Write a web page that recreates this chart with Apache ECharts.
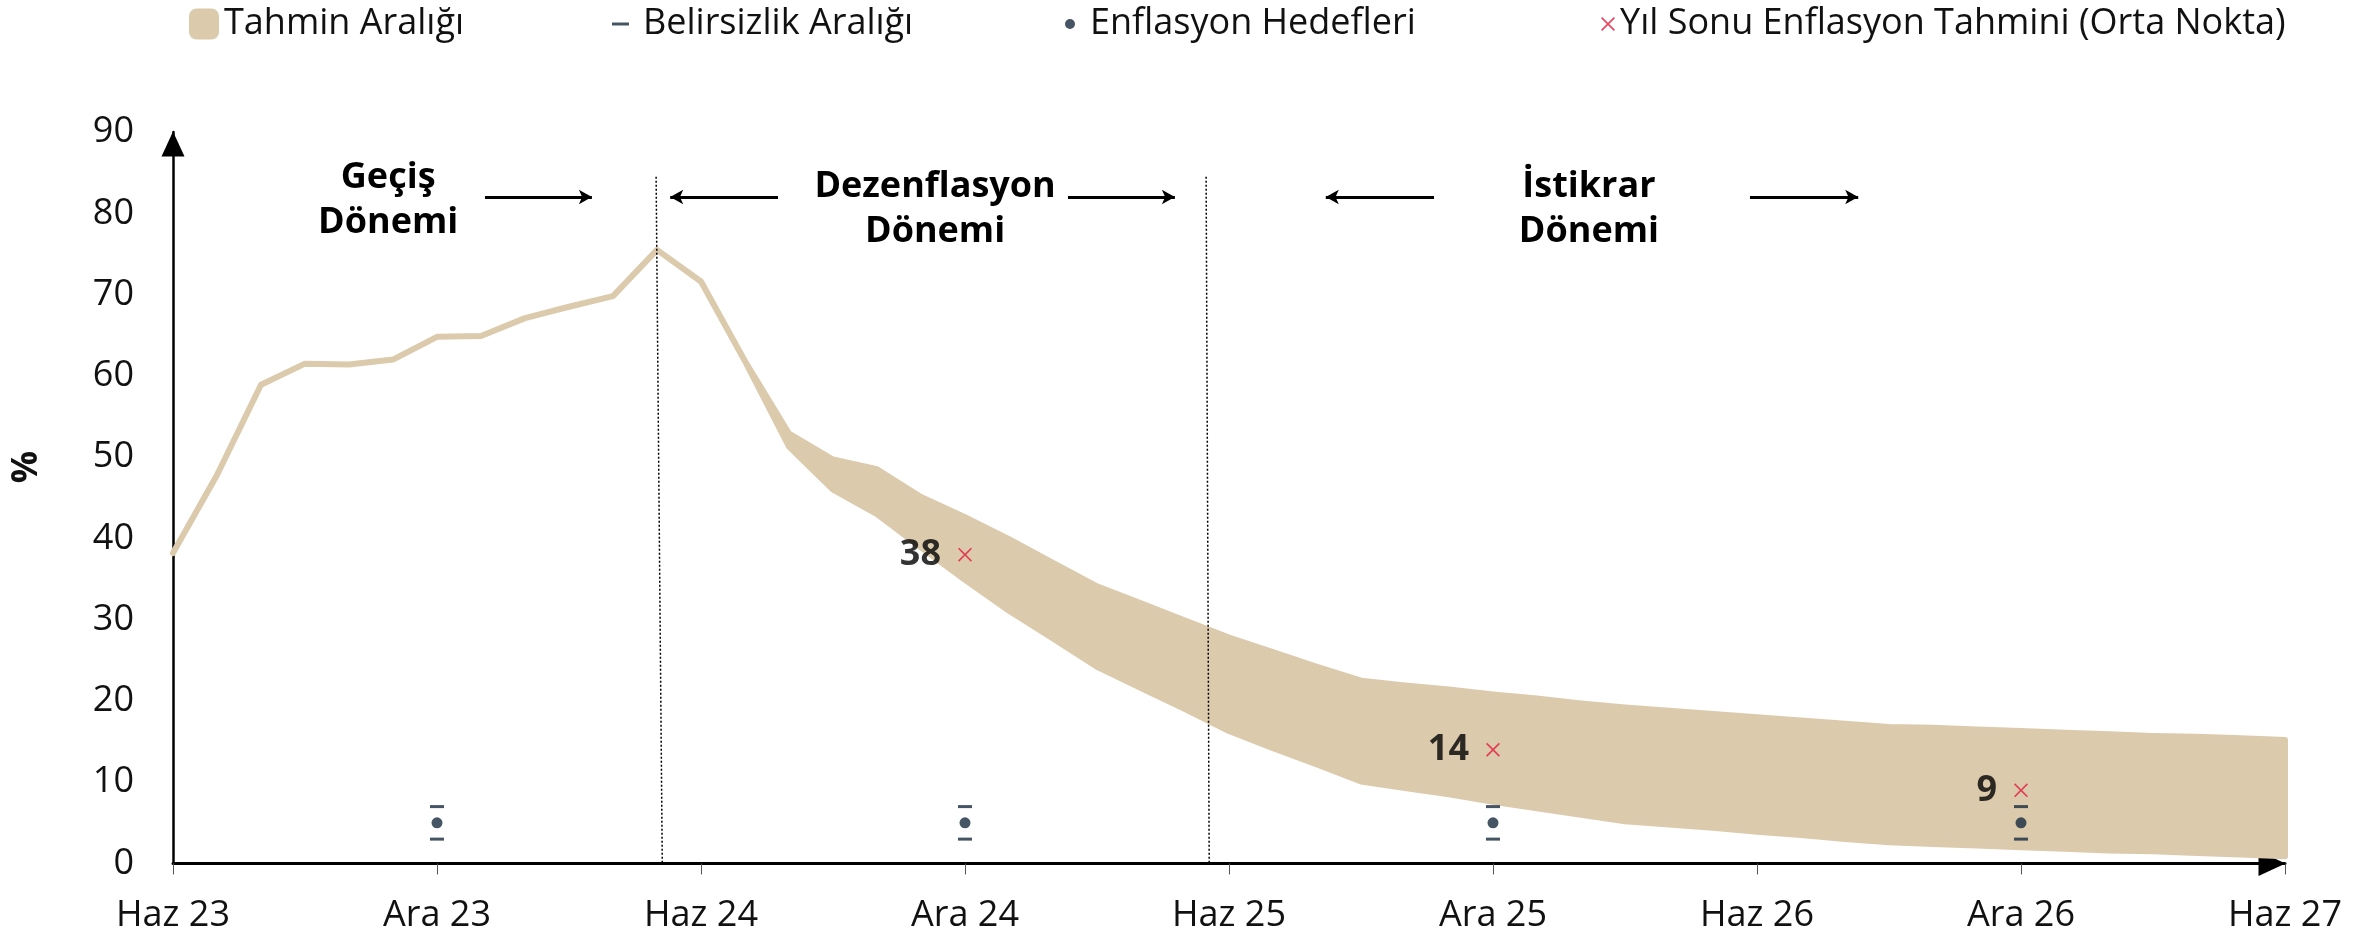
<!DOCTYPE html>
<html>
<head>
<meta charset="utf-8">
<script src="https://cdn.jsdelivr.net/npm/echarts@6/dist/echarts.min.js"></script>
<style>
  html, body { margin: 0; padding: 0; background: #ffffff; }
  #chart { width: 2379px; height: 938px; }
</style>
</head>
<body>
<div id="chart"></div>
<script>
// Monthly axis, June 2023 – June 2027
const months = ['Haz 23','Tem 23','Ağu 23','Eyl 23','Eki 23','Kas 23','Ara 23',
  'Oca 24','Şub 24','Mar 24','Nis 24','May 24','Haz 24','Tem 24','Ağu 24','Eyl 24','Eki 24','Kas 24','Ara 24',
  'Oca 25','Şub 25','Mar 25','Nis 25','May 25','Haz 25','Tem 25','Ağu 25','Eyl 25','Eki 25','Kas 25','Ara 25',
  'Oca 26','Şub 26','Mar 26','Nis 26','May 26','Haz 26','Tem 26','Ağu 26','Eyl 26','Eki 26','Kas 26','Ara 26',
  'Oca 27','Şub 27','Mar 27','Nis 27','May 27','Haz 27'];

// Realized annual inflation (%), Haz 23 – Tem 24
const realized = [38.2, 47.8, 58.9, 61.5, 61.4, 62.0, 64.8, 64.9, 67.1, 68.5, 69.8, 75.5, 71.6, 61.8];

// Forecast range (%), Ağu 24 – Haz 27
const forecastHigh = [52.9, 49.7, 48.5, 45.1, 42.6, 39.9, 37.0, 34.1, 32.0, 29.9, 27.8, 26.0, 24.2, 22.5,
  21.9, 21.4, 20.8, 20.3, 19.7, 19.2, 18.8, 18.4, 18.0, 17.6, 17.2, 16.8,
  16.7, 16.5, 16.3, 16.1, 15.9, 15.7, 15.6, 15.4, 15.2];
const forecastLow = [51.3, 46.0, 43.0, 38.9, 34.9, 31.1, 27.7, 24.2, 21.6, 19.0, 16.3, 14.2, 12.2, 10.1,
  9.3, 8.5, 7.6, 6.8, 6.0, 5.2, 4.8, 4.4, 3.9, 3.5, 3.0, 2.6,
  2.4, 2.2, 2.0, 1.8, 1.6, 1.5, 1.3, 1.1, 0.9];

// Inflation targets and their uncertainty band
const targetMonths = ['Ara 23', 'Ara 24', 'Ara 25', 'Ara 26'];
const targetValues = [5, 5, 5, 5];
const uncertaintyHigh = [7, 7, 7, 7];
const uncertaintyLow = [3, 3, 3, 3];

// Year-end forecast midpoints
const midMonths = ['Ara 24', 'Ara 25', 'Ara 26'];
const midValues = [38, 14, 9];

// Y axis ticks
const yTicks = [0, 10, 20, 30, 40, 50, 60, 70, 80, 90];

const FONT = "'Open Sans', 'Noto Sans', sans-serif";
const BAND = '#dccaad';
const NAVY = '#172a3e';
const RED = '#e21b3c';
const INK = '#111111';
const CROSS = 'path://M1.2,0L7,5.8L12.8,0L14,1.2L8.2,7L14,12.8L12.8,14L7,8.2L1.2,14L0,12.8L5.8,7L0,1.2Z';

const idx = m => months.indexOf(m);
// rows: [month index, low, high]; realized months have low == high
const bandRows = realized.map((v, i) => [i, v, v])
  .concat(forecastLow.map((v, i) => [realized.length + i, v, forecastHigh[i]]));
const dashData = [];
targetMonths.forEach((m, i) => {
  dashData.push([idx(m), uncertaintyHigh[i]]);
  dashData.push([idx(m), uncertaintyLow[i]]);
});
const targetData = targetMonths.map((m, i) => [idx(m), targetValues[i]]);
const midData = midMonths.map((m, i) => [idx(m), midValues[i]]);

const legendText = { fontFamily: FONT, fontSize: 36, color: INK };

// Band outline: upper edge left→right, lower edge back right→left
function renderBand(params, api) {
  if (params.dataIndex !== 0) return null;
  const upper = bandRows.map(r => api.coord([r[0], r[2]]));
  const lower = bandRows.map(r => api.coord([r[0], r[1]])).reverse();
  return {
    type: 'polygon',
    shape: { points: upper.concat(lower) },
    style: { fill: BAND, stroke: BAND, lineWidth: 6, lineJoin: 'round' },
    silent: true
  };
}

const chart = echarts.init(document.getElementById('chart'));
chart.setOption({
  animation: false,
  backgroundColor: '#ffffff',
  textStyle: { fontFamily: FONT },
  grid: { left: 173, right: 94, top: 132, bottom: 74.5, containLabel: false },
  legend: [
    { left: 189, top: 6, padding: 0, icon: 'roundRect', itemWidth: 30, itemHeight: 31,
      data: ['Tahmin Aralığı'], textStyle: legendText, selectedMode: false },
    { left: 612, top: 6, padding: 0, icon: 'rect', itemWidth: 17, itemHeight: 3,
      data: ['Belirsizlik Aralığı'], textStyle: Object.assign({ padding: [0, 0, 0, 9] }, legendText), selectedMode: false },
    { left: 1065, top: 6, padding: 0, icon: 'circle', itemWidth: 10, itemHeight: 10,
      data: ['Enflasyon Hedefleri'], textStyle: Object.assign({ padding: [0, 0, 0, 10] }, legendText), selectedMode: false },
    { left: 1601, top: 6, padding: 0, icon: CROSS, itemWidth: 14, itemHeight: 14,
      data: ['Yıl Sonu Enflasyon Tahmini (Orta Nokta)'], textStyle: legendText, selectedMode: false }
  ],
  xAxis: {
    type: 'value', min: 0, max: months.length - 1, interval: 6,
    axisLine: { show: true, onZero: false, lineStyle: { color: '#000', width: 3 },
      symbol: ['none', 'triangle'], symbolSize: [25, 27], symbolOffset: [0, -13] },
    axisTick: { show: true, length: 11, lineStyle: { color: '#555', width: 1 } },
    axisLabel: { margin: 34, fontSize: 36, color: INK, fontFamily: FONT,
      formatter: v => months[v] || '' },
    splitLine: { show: false }
  },
  yAxis: {
    type: 'value', min: yTicks[0], max: yTicks[yTicks.length - 1], interval: 10,
    axisLine: { show: true, lineStyle: { color: '#000', width: 2.5 },
      symbol: ['none', 'triangle'], symbolSize: [23, 25], symbolOffset: [0, -12] },
    axisTick: { show: false },
    axisLabel: { margin: 39, fontSize: 36, color: INK, fontFamily: FONT },
    splitLine: { show: false }
  },
  graphic: [
    { type: 'text', x: 27, y: 467, rotation: Math.PI / 2,
      style: { text: '%', fontSize: 36, fontWeight: 'bold', fontFamily: FONT, fill: INK,
        align: 'center', verticalAlign: 'middle' } }
  ],
  series: [
    {
      name: 'Tahmin Aralığı', type: 'custom', data: bandRows,
      encode: { x: 0, y: [1, 2] },
      itemStyle: { color: BAND }, silent: true, z: 2,
      renderItem: renderBand
    },
    {
      name: 'Belirsizlik Aralığı', type: 'scatter', data: dashData,
      symbol: 'rect', symbolSize: [14, 3], itemStyle: { color: NAVY }, z: 5, silent: true,
      markLine: {
        silent: true, symbol: ['none', 'none'], label: { show: false },
        lineStyle: { color: '#000', width: 1.5, type: [2, 2] },
        data: [
          [{ coord: [10.98, 84.5] }, { coord: [11.12, 0] }],
          [{ coord: [23.48, 84.5] }, { coord: [23.55, 0] }]
        ]
      }
    },
    {
      name: 'Enflasyon Hedefleri', type: 'scatter', data: targetData,
      symbol: 'circle', symbolSize: 11, itemStyle: { color: NAVY }, z: 5, silent: true,
      markLine: {
        silent: true, label: { show: false }, symbol: ['none', 'arrow'], symbolSize: [11, 13],
        lineStyle: { color: '#000', width: 3, type: 'solid' },
        data: [
          [{ coord: [7.09, 82] }, { coord: [9.52, 82] }],
          [{ coord: [13.75, 82] }, { coord: [11.30, 82] }],
          [{ coord: [20.34, 82] }, { coord: [22.77, 82] }],
          [{ coord: [28.66, 82] }, { coord: [26.20, 82] }],
          [{ coord: [35.84, 82] }, { coord: [38.30, 82] }]
        ]
      }
    },
    {
      name: 'Yıl Sonu Enflasyon Tahmini (Orta Nokta)', type: 'scatter', data: midData,
      symbol: CROSS, symbolSize: 14, itemStyle: { color: RED }, z: 6, silent: true,
      label: { show: true, position: 'left', distance: 17, fontSize: 36, fontWeight: 'bold',
        color: '#000', fontFamily: FONT, formatter: p => String(p.value[1]) },
      markPoint: {
        silent: true, symbol: 'rect', symbolSize: 1, itemStyle: { color: 'rgba(0,0,0,0)' },
        label: { show: true, position: 'inside', formatter: '{b}', fontSize: 36, fontWeight: 'bold',
          lineHeight: 45, color: '#000', fontFamily: FONT, align: 'center' },
        data: [
          { name: 'Geçiş\nDönemi', coord: [4.89, 81.6] },
          { name: 'Dezenflasyon\nDönemi', coord: [17.32, 80.5] },
          { name: 'İstikrar\nDönemi', coord: [32.18, 80.5] }
        ]
      }
    }
  ]
});
</script>
</body>
</html>
